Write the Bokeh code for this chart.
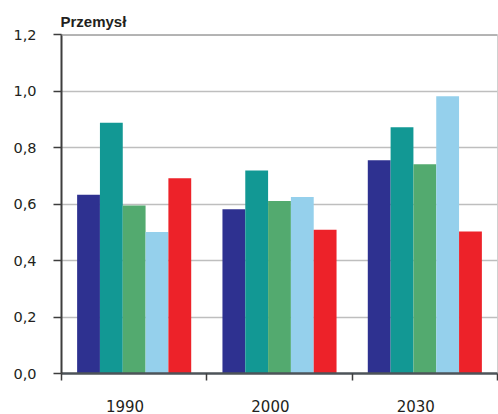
import numpy as np
from bokeh.plotting import figure
from bokeh.models import Range1d, FixedTicker, Span
from bokeh.embed import file_html
from bokeh.resources import INLINE

years = ["1990", "2000", "2030"]
s1 = [0.633, 0.581, 0.755]
s2 = [0.888, 0.719, 0.872]
s3 = [0.595, 0.611, 0.741]
s4 = [0.501, 0.625, 0.981]
s5 = [0.691, 0.509, 0.503]
series = [s1, s2, s3, s4, s5]
colors = ["#2E3190", "#129894", "#53AA6F", "#95D0EC", "#ED2229"]
y_ticks = [0.0, 0.2, 0.4, 0.6, 0.8, 1.0, 1.2]
y_labels = ["0,0", "0,2", "0,4", "0,6", "0,8", "1,0", "1,2"]

n_groups = len(years)
bar_w = 0.157
first_center = 0.5 - 2 * bar_w
label_shift = -0.0625

p = figure(width=498, height=414, output_backend="svg", toolbar_location=None,
           x_range=Range1d(0, n_groups), y_range=Range1d(0, 1.2),
           min_border_left=61, min_border_right=1, min_border_top=34, min_border_bottom=40)

gidx = np.arange(n_groups)
for k, (vals, c) in enumerate(zip(series, colors)):
    p.vbar(x=gidx + first_center + k * bar_w, top=vals, width=bar_w,
           fill_color=c, line_color=None)

# title
p.title.text = "Przemysł"
p.title.text_font = "Liberation Sans"
p.title.text_font_size = "15px"
p.title.text_font_style = "bold"
p.title.text_color = "#231F20"
p.title.align = "left"
p.title.offset = -1
p.title.standoff = 9

# outline and grid
p.outline_line_color = "#D0D0D0"
p.outline_line_width = 1
p.xgrid.visible = False
p.ygrid.ticker = FixedTicker(ticks=y_ticks)
p.ygrid.grid_line_color = "#BEBEBE"
p.ygrid.grid_line_width = 1.5
p.add_layout(Span(location=y_ticks[-1], dimension="width", line_color="#9A9A9A", line_width=2.5))

# y axis
ya = p.yaxis[0]
ya.ticker = FixedTicker(ticks=y_ticks)
ya.major_label_overrides = {t: l for t, l in zip(y_ticks, y_labels)}
ya.major_tick_out = 8
ya.major_tick_in = 0
ya.minor_tick_line_color = None
ya.axis_line_color = "#3D3D3D"
ya.axis_line_width = 2
ya.major_tick_line_color = "#3D3D3D"
ya.major_tick_line_width = 1.5
ya.major_label_text_font = "DejaVu Sans"
ya.major_label_text_font_size = "14.5px"
ya.major_label_text_color = "#231F20"
ya.major_label_standoff = 17

# x axis
xa = p.xaxis[0]
label_pos = [i + 0.5 + label_shift for i in range(n_groups)]
xa.ticker = FixedTicker(ticks=label_pos, minor_ticks=list(range(n_groups + 1)))
xa.major_label_overrides = {t: y for t, y in zip(label_pos, years)}
xa.major_tick_out = 0
xa.major_tick_in = 0
xa.major_tick_line_color = None
xa.minor_tick_out = 7
xa.minor_tick_in = 0
xa.minor_tick_line_color = "#3D3D3D"
xa.minor_tick_line_width = 1.5
xa.axis_line_color = "#4D5358"
xa.axis_line_width = 2.5
xa.major_label_text_font = "DejaVu Sans"
xa.major_label_text_font_size = "15px"
xa.major_label_text_color = "#231F20"
xa.major_label_standoff = 19

open("out.html", "w").write(file_html(p, INLINE))
